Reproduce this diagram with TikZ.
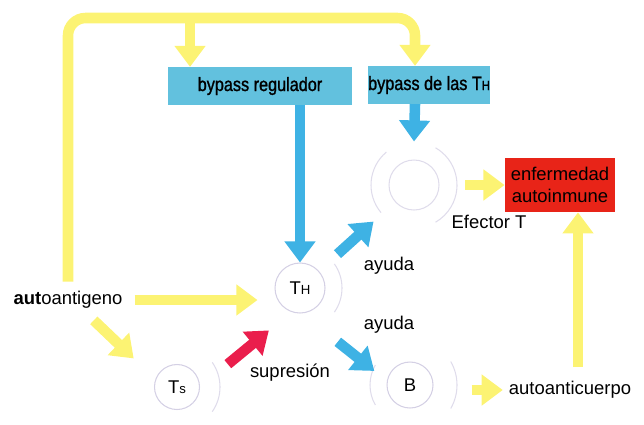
\documentclass[tikz,border=0pt]{standalone}
\usepackage{fontspec}
\setmainfont{Liberation Sans}
\newfontfamily\narrowfont{Liberation Sans}[FakeStretch=0.84,FakeBold=1.2]
\usetikzlibrary{arrows.meta,positioning,calc}
\definecolor{SoftYellow}{RGB}{252,243,115}
\definecolor{SkyBlue}{RGB}{62,178,228}
\definecolor{BoxCyan}{RGB}{98,193,222}
\definecolor{AlertRed}{RGB}{232,36,24}
\definecolor{SupRed}{RGB}{234,30,76}
\definecolor{CellLilac}{RGB}{212,208,228}
\tikzset{
  yarr/.style={-{Triangle[width=17pt,length=12pt]},SoftYellow,line width=6pt},
  barr/.style={-{Triangle[width=17pt,length=12pt]},SkyBlue,line width=6pt},
  rarr/.style={-{Triangle[width=17pt,length=12pt]},SupRed,line width=6pt},
  bbox/.style={fill=BoxCyan,minimum height=0.75cm,inner sep=0pt,
               font=\narrowfont\fontsize{11}{12}\selectfont},
  rbox/.style={fill=AlertRed,minimum width=2.1cm,minimum height=1.08cm,
               align=center,font=\fontsize{10.5}{12.5}\selectfont},
  cell/.style={circle,draw=CellLilac,line width=0.6pt,inner sep=0pt,
               minimum size=0.95cm,font=\fontsize{10.5}{12}\selectfont},
  halo/.style={draw=CellLilac!75,line width=0.6pt},
  lbl/.style={font=\fontsize{10.5}{12}\selectfont},
}
\newcommand{\smallcap}[1]{{\fontsize{7.5}{8}\selectfont #1}}

\begin{document}
\begin{tikzpicture}[x=0.02cm,y=-0.02cm]
  \useasboundingbox (0,0) rectangle (644,424);

  % bypass boxes
  \node[bbox,minimum width=3.7cm] (bpreg) at (260,86) {bypass regulador};
  \node[bbox,minimum width=2.36cm] (bpth) at (429,85) {bypass de las T\smallcap{H}};

  % cells
  \node[cell,minimum size=1cm] (th) at (300,288) {T\smallcap{H}};
  \node[cell,minimum size=1.72cm,draw=none] (eft) at (414,185) {};
  \node[cell,minimum size=0.9cm] (ts) at (177,387) {T\smallcap{s}};
  \node[cell,minimum size=0.92cm] (b) at (410,385) {B};
  \node[rbox] (enf) at (560,185) {enfermedad\\autoinmune};

  \draw[halo] (th.center) ++(-35:42) arc[start angle=-35,end angle=35,radius=42];
  \draw[halo] (ts.center) ++(-35:43) arc[start angle=-35,end angle=35,radius=43];
  \draw[halo] (b.center) ++(-30:47) arc[start angle=-30,end angle=30,radius=47];
  \draw[halo] (b.center) ++(150:40) arc[start angle=150,end angle=210,radius=40];
  \draw[halo] (eft.center) circle[radius=25];
  \draw[halo] (eft.center) ++(-60:43) arc[start angle=-60,end angle=60,radius=43];
  \draw[halo] (eft.center) ++(140:43) arc[start angle=140,end angle=230,radius=43];

  % labels
  \node[lbl] (auto) at (68,300) {{\bfseries aut}oantigeno};
  \node[lbl] (efl) at (489,222) {Efector T};
  \node[lbl] (ayuda1) at (389,266) {ayuda};
  \node[lbl] (ayuda2) at (389,325) {ayuda};
  \node[lbl] (supr) at (290,373) {supresión};
  \node[lbl] (anti) at (570,390) {autoanticuerpo};

  % yellow paths
  \coordinate (top) at (0,18);
  \draw[yarr,rounded corners=0.35cm,shorten <=2pt] (auto.north) -- (auto.north |- top)
    -| ([xshift=-0.28cm]bpth.north);
  \draw[yarr] ([xshift=-1.4cm]bpreg.north |- top) -- ([xshift=-1.4cm]bpreg.north);
  \draw[yarr,shorten <=0.12cm,shorten >=0.34cm] (auto.east) -- (auto.east -| th.west);
  \draw[yarr,shorten <=0.16cm,shorten >=0.6cm] ([xshift=0.4cm]auto.south) -- (ts.160);
  \draw[yarr,shorten <=0.15cm] (eft.east) -- (eft.east -| enf.west);
  \draw[yarr,shorten <=0.76cm] (b.east |- anti.west) -- (anti.west);
  \draw[yarr,shorten <=0.16cm] ([xshift=0.16cm]anti.north) -- ([xshift=0.16cm]anti.north |- enf.south);

  % blue and red paths
  \draw[barr] (bpreg.south -| th.north) -- (th.north);
  \draw[barr] ([xshift=-0.28cm]bpth.south) -- (eft.north);
  \draw[barr,shorten <=0.5cm,shorten >=0.22cm] (th) -- (eft);
  \draw[barr,shorten <=0.91cm,shorten >=0.32cm] (th.-85) -- (b.170);
  \draw[rarr,shorten <=0.72cm,shorten >=0.58cm] (ts.east) -- (th.-110);
\end{tikzpicture}
\end{document}
